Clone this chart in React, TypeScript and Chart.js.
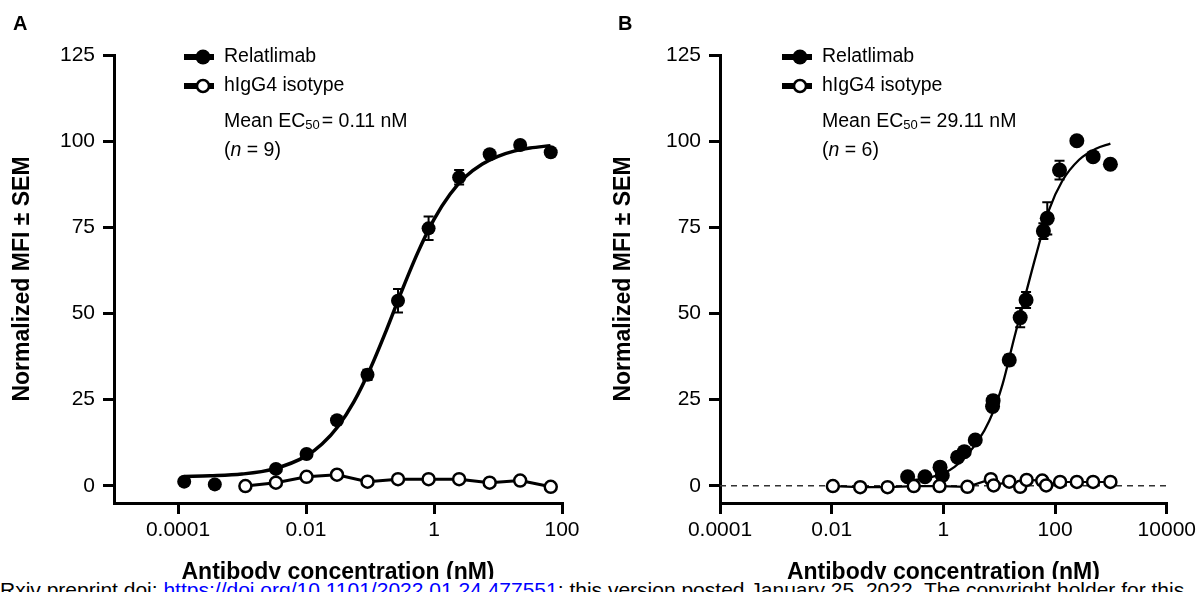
import { useEffect, useRef } from "react";
import { Chart, registerables } from "chart.js";

Chart.register(...registerables);

// ---------- Panel A data (nM, normalized MFI) ----------
const relaConcA = [0.000125, 0.000376, 0.00339, 0.0102, 0.0305, 0.0914, 0.274, 0.823, 2.47, 7.41, 22.2, 66.7];
const relaMfiA = [1.2, 0.4, 4.9, 9.2, 19.0, 32.2, 53.7, 74.7, 89.5, 96.2, 98.9, 96.8];
const relaSemA = [0, 0, 0, 0, 0.8, 1.5, 3.4, 3.4, 2.1, 0.8, 0.8, 0.8];
const isoConcA = [0.00113, 0.00339, 0.0102, 0.0305, 0.0914, 0.274, 0.823, 2.47, 7.41, 22.2, 66.7];
const isoMfiA = [-0.1, 0.9, 2.6, 3.2, 1.2, 1.9, 1.9, 1.9, 0.9, 1.5, -0.3];
const fitConcA = [0.000126, 0.000316, 0.001, 0.00316, 0.01, 0.0178, 0.0316, 0.0562, 0.1, 0.178, 0.316, 0.562, 1, 1.78, 3.16, 5.62, 10, 17.8, 31.6, 66.1];
const fitMfiA = [2.7, 2.9, 3.4, 4.9, 8.6, 12.1, 17.2, 24.4, 33.8, 44.9, 56.7, 67.8, 77.3, 84.6, 89.8, 93.3, 95.6, 97.1, 98.0, 98.7];
const xTickValuesA = [0.0001, 0.01, 1, 100];
const xTickLabelsA = ["0.0001", "0.01", "1", "100"];
const xRangeA = [0.00001, 100];
const ec50A = "0.11";
const nA = "9";

// ---------- Panel B data ----------
const relaConcB = [0.229, 0.468, 0.871, 0.955, 1.8, 2.37, 3.72, 7.59, 7.76, 15.1, 23.7, 30.2, 61.7, 72.4, 120, 245, 479, 977];
const relaMfiB = [2.6, 2.6, 5.4, 3.0, 8.3, 9.9, 13.3, 23.0, 24.7, 36.5, 48.8, 53.9, 73.9, 77.6, 91.6, 100.1, 95.5, 93.3];
const relaSemB = [0, 0, 0, 0, 0, 0, 0, 0, 0, 1.5, 2.8, 2.3, 2.3, 4.7, 2.7, 0, 0, 0];
const isoConcB = [0.0105, 0.0324, 0.1, 0.295, 0.851, 2.69, 7.08, 7.94, 15.1, 23.7, 30.9, 58.9, 69.2, 123, 245, 479, 977];
const isoMfiB = [-0.1, -0.4, -0.4, -0.1, -0.1, -0.3, 1.9, 0.1, 1.2, -0.3, 1.7, 1.5, 0.1, 1.1, 1.1, 1.1, 1.1];
const fitConcB = [0.229, 0.398, 0.631, 1, 1.585, 2.512, 4.365, 6.607, 8.913, 11.48, 18.62, 30.2, 45.71, 77.62, 134.9, 269.2, 537, 977];
const fitMfiB = [1.5, 1.9, 2.6, 3.6, 5.5, 8.5, 13.5, 18.8, 24.0, 29.5, 43.0, 56.0, 67.0, 80.0, 88.5, 94.6, 97.8, 99.3];
const zeroLineConcB = [0.0001, 10000];
const zeroLineMfiB = [0, 0];
const xTickValuesB = [0.0001, 0.01, 1, 100, 10000];
const xTickLabelsB = ["0.0001", "0.01", "1", "100", "10000"];
const xRangeB = [0.0001, 10000];
const ec50B = "29.11";
const nB = "6";

// ---------- shared ----------
const yTickValues = [0, 25, 50, 75, 100, 125];
const yTickLabels = ["0", "25", "50", "75", "100", "125"];
const yRange = [-5, 125];
const legendLabels = ["Relatlimab", "hIgG4 isotype"];
const xTitle = "Antibody concentration (nM)";
const yTitle = "Normalized MFI ± SEM";

const FONT = "'Liberation Sans', Arial, Helvetica, sans-serif";

const pts = (xs: number[], ys: number[]) => xs.map((x, i) => ({ x, y: ys[i] }));

const errorBarsPlugin = {
  id: "errorBars",
  beforeDatasetsDraw(chart: any, _args: any, opts: any) {
    if (!opts || !opts.sets) return;
    const ctx = chart.ctx;
    const yScale = chart.scales.y;
    ctx.save();
    ctx.strokeStyle = "#000";
    ctx.lineWidth = 2;
    opts.sets.forEach((set: any) => {
      const meta = chart.getDatasetMeta(set.index);
      const ds = chart.data.datasets[set.index];
      meta.data.forEach((el: any, j: number) => {
        const s = set.sem[j];
        if (!s) return;
        const v = ds.data[j].y;
        const yt = yScale.getPixelForValue(v + s);
        const yb = yScale.getPixelForValue(v - s);
        const x = el.x;
        ctx.beginPath();
        ctx.moveTo(x, yt);
        ctx.lineTo(x, yb);
        ctx.moveTo(x - 5, yt);
        ctx.lineTo(x + 5, yt);
        ctx.moveTo(x - 5, yb);
        ctx.lineTo(x + 5, yb);
        ctx.stroke();
      });
    });
    ctx.restore();
  },
};

const panelTextPlugin = {
  id: "panelText",
  afterDraw(chart: any, _args: any, opts: any) {
    if (!opts || !opts.labels) return;
    const ctx = chart.ctx;
    ctx.save();
    const norm = `19.5px ${FONT}`;
    const rows = [
      { y: 57, filled: true, label: opts.labels[0], ty: 57 },
      { y: 86, filled: false, label: opts.labels[1], ty: 85.5 },
    ];
    rows.forEach((r) => {
      ctx.strokeStyle = "#000";
      ctx.lineWidth = 6;
      ctx.lineCap = "butt";
      ctx.beginPath();
      ctx.moveTo(opts.lineX1, r.y);
      ctx.lineTo(opts.lineX2, r.y);
      ctx.stroke();
      ctx.beginPath();
      if (r.filled) {
        ctx.arc(opts.markerX, r.y, 7.5, 0, Math.PI * 2);
        ctx.fillStyle = "#000";
        ctx.fill();
      } else {
        ctx.arc(opts.markerX, r.y, 6, 0, Math.PI * 2);
        ctx.fillStyle = "#fff";
        ctx.fill();
        ctx.lineWidth = 2.5;
        ctx.stroke();
      }
      ctx.fillStyle = "#000";
      ctx.font = norm;
      ctx.textAlign = "left";
      ctx.textBaseline = "middle";
      ctx.fillText(r.label, opts.textX, r.ty);
    });

    ctx.textBaseline = "alphabetic";
    ctx.fillStyle = "#000";
    let x = opts.textX;
    const b1 = 126.8;
    ctx.font = norm;
    ctx.fillText("Mean EC", x, b1);
    x += ctx.measureText("Mean EC").width;
    ctx.font = `13px ${FONT}`;
    ctx.fillText("50", x, b1 + 1.8);
    x += ctx.measureText("50").width + 2;
    ctx.font = norm;
    ctx.fillText(`= ${opts.ec50} nM`, x, b1);

    const b2 = 155.5;
    x = opts.textX;
    ctx.font = norm;
    ctx.fillText("(", x, b2);
    x += ctx.measureText("(").width;
    ctx.font = `italic 19.5px ${FONT}`;
    ctx.fillText("n", x, b2);
    x += ctx.measureText("n").width;
    ctx.font = norm;
    ctx.fillText(` = ${opts.n})`, x, b2);
    ctx.restore();
  },
};

type PanelSpec = {
  datasets: any[];
  xTicks: number[];
  xLabels: string[];
  xRange: number[];
  yWidth: number;
  padRight: number;
  yTitlePad: number;
  errSets: any[];
  text: any;
};

function makeConfig(p: PanelSpec): any {
  const tickFont = { family: FONT, size: 21 };
  const titleFont = { family: FONT, size: 23, weight: "bold" as const };
  const grid = {
    display: true,
    drawOnChartArea: false,
    drawTicks: true,
    tickLength: 11,
    tickWidth: 3,
    tickColor: "#000",
    color: "#000",
    lineWidth: 3,
  };
  const border = { display: true, color: "#000", width: 3 };
  return {
    type: "scatter",
    data: { datasets: p.datasets },
    plugins: [errorBarsPlugin, panelTextPlugin],
    options: {
      animation: false,
      responsive: false,
      events: [],
      layout: { padding: { top: 55, right: p.padRight, bottom: 0, left: 0 } },
      plugins: {
        legend: { display: false },
        tooltip: { enabled: false },
        errorBars: { sets: p.errSets },
        panelText: p.text,
      },
      scales: {
        x: {
          type: "logarithmic",
          position: "bottom",
          min: p.xRange[0],
          max: p.xRange[1],
          afterBuildTicks: (s: any) => {
            s.ticks = p.xTicks.map((v) => ({ value: v }));
          },
          afterFit: (s: any) => {
            s.height = 89;
          },
          ticks: {
            autoSkip: false,
            maxRotation: 0,
            minRotation: 0,
            padding: 4,
            color: "#000",
            font: tickFont,
            callback: (_v: any, i: number) => p.xLabels[i],
          },
          grid,
          border,
          title: {
            display: true,
            text: xTitle,
            color: "#000",
            font: titleFont,
            padding: { top: 0, bottom: 6 },
          },
        },
        y: {
          type: "linear",
          position: "left",
          min: yRange[0],
          max: yRange[1],
          afterBuildTicks: (s: any) => {
            s.ticks = yTickValues.map((v) => ({ value: v }));
          },
          afterFit: (s: any) => {
            s.width = p.yWidth;
          },
          ticks: {
            padding: 8,
            color: "#000",
            font: tickFont,
            callback: (_v: any, i: number) => yTickLabels[i],
          },
          grid,
          border,
          title: {
            display: true,
            text: yTitle,
            color: "#000",
            font: titleFont,
            padding: { top: p.yTitlePad, bottom: 0 },
          },
        },
      },
    },
  };
}

const curveStyle = (w: number) => ({
  showLine: true,
  borderColor: "#000",
  borderWidth: w,
  pointRadius: 0,
  cubicInterpolationMode: "monotone",
  fill: false,
  order: 3,
});

const filledStyle = (r: number) => ({
  showLine: false,
  pointRadius: r,
  pointBackgroundColor: "#000",
  pointBorderColor: "#000",
  pointBorderWidth: 0,
  order: 2,
});

const openStyle = (w: number) => ({
  showLine: true,
  borderColor: "#000",
  borderWidth: w,
  tension: 0,
  pointRadius: 6,
  pointBackgroundColor: "#fff",
  pointBorderColor: "#000",
  pointBorderWidth: 2.5,
  order: 1,
});

function Panel({ spec, left }: { spec: PanelSpec; left: number }) {
  const ref = useRef<HTMLCanvasElement | null>(null);
  useEffect(() => {
    if (!ref.current) return;
    const chart = new Chart(ref.current, makeConfig(spec));
    return () => chart.destroy();
  }, []);
  return (
    <div style={{ position: "absolute", left, top: 0, width: 600, height: 592 }}>
      <canvas ref={ref} width={600} height={592} style={{ display: "block", width: 600, height: 592 }} />
    </div>
  );
}

const specA: PanelSpec = {
  datasets: [
    { label: "fitA", data: pts(fitConcA, fitMfiA), ...curveStyle(3.5) },
    { label: legendLabels[0], data: pts(relaConcA, relaMfiA), ...filledStyle(7) },
    { label: legendLabels[1], data: pts(isoConcA, isoMfiA), ...openStyle(3) },
  ],
  xTicks: xTickValuesA,
  xLabels: xTickLabelsA,
  xRange: xRangeA,
  yWidth: 114,
  padRight: 38,
  yTitlePad: 9,
  errSets: [{ index: 1, sem: relaSemA }],
  text: { labels: legendLabels, lineX1: 184, lineX2: 214, markerX: 203, textX: 224, ec50: ec50A, n: nA },
};

const specB: PanelSpec = {
  datasets: [
    { label: "fitB", data: pts(fitConcB, fitMfiB), ...curveStyle(2.3) },
    { label: legendLabels[0], data: pts(relaConcB, relaMfiB), ...filledStyle(7.5) },
    { label: legendLabels[1], data: pts(isoConcB, isoMfiB), ...openStyle(2.2) },
    {
      label: "zero",
      data: pts(zeroLineConcB, zeroLineMfiB),
      showLine: true,
      borderColor: "#333",
      borderWidth: 1.5,
      borderDash: [6, 5],
      pointRadius: 0,
      order: 10,
    },
  ],
  xTicks: xTickValuesB,
  xLabels: xTickLabelsB,
  xRange: xRangeB,
  yWidth: 120,
  padRight: 32,
  yTitlePad: 10,
  errSets: [{ index: 1, sem: relaSemB }],
  text: { labels: legendLabels, lineX1: 182, lineX2: 212, markerX: 200, textX: 222, ec50: ec50B, n: nB },
};

export default function App() {
  const letter = {
    position: "absolute" as const,
    top: 13,
    fontFamily: FONT,
    fontWeight: "bold" as const,
    fontSize: 20,
    lineHeight: "20px",
    color: "#000",
  };
  return (
    <div
      style={{
        position: "absolute",
        left: 0,
        top: 0,
        width: 1200,
        height: 592,
        background: "#fff",
        overflow: "hidden",
      }}
    >
      <Panel spec={specA} left={0} />
      <Panel spec={specB} left={600} />
      <div style={{ ...letter, left: 13 }}>A</div>
      <div style={{ ...letter, left: 618 }}>B</div>
      <div
        style={{
          position: "absolute",
          left: -28,
          top: 579,
          width: 1260,
          height: 13,
          overflow: "hidden",
          whiteSpace: "nowrap",
          background: "#fff",
          fontFamily: FONT,
          fontSize: 21,
          lineHeight: "21px",
          color: "#000",
        }}
      >
        bioRxiv preprint doi:{" "}
        <span style={{ color: "#0000ff" }}>https://doi.org/10.1101/2022.01.24.477551</span>; this version posted
        January 25, 2022. The copyright holder for this
      </div>
    </div>
  );
}
